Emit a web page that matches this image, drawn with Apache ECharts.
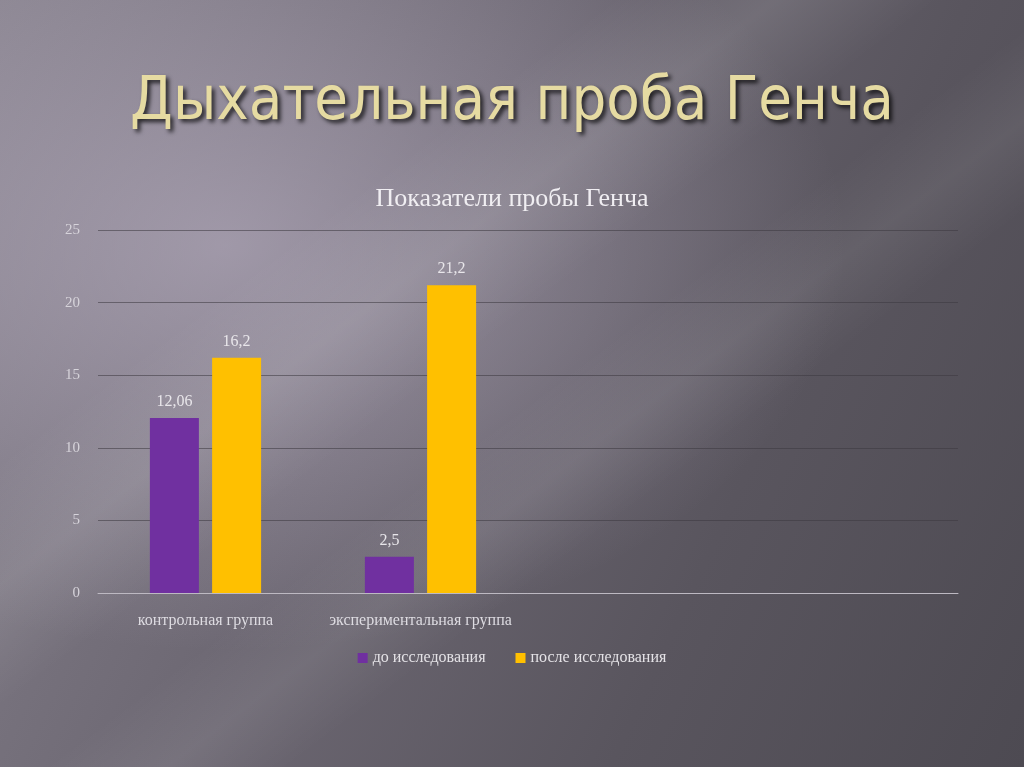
<!DOCTYPE html>
<html>
<head>
<meta charset="utf-8">
<script src="https://cdn.jsdelivr.net/npm/echarts@6/dist/echarts.min.js"></script>
<style>
  html, body { margin: 0; padding: 0; }
  body {
    width: 1024px; height: 767px; overflow: hidden;
    background:
      linear-gradient(143deg, rgba(255,255,255,0) 30%, rgba(255,255,255,0.10) 38%, rgba(255,255,255,0) 46%),
      linear-gradient(143deg, rgba(255,255,255,0) 52%, rgba(255,255,255,0.07) 58%, rgba(255,255,255,0) 64%),
      radial-gradient(ellipse at 22% 32%, rgba(195,185,205,0.55) 0%, rgba(195,185,205,0) 55%),
      linear-gradient(115deg, #85808b 0%, #6c6772 40%, #59555e 70%, #4d4a52 100%);
  }
  #chart { width: 1024px; height: 767px; }
</style>
</head>
<body>
<div id="chart"></div>
<script>
// данные диаграммы
var categories = ['контрольная группа', 'экспериментальная группа', '', ''];
var before = [12.06, 2.5, null, null];
var after = [16.2, 21.2, null, null];
var yTicks = [0, 5, 10, 15, 20, 25];

var chart = echarts.init(document.getElementById('chart'));

function label(v) {
  return String(v).replace('.', ',');
}

var serif = 'Liberation Serif';

var option = {
  animation: false,
  title: [
    {
      text: 'Дыхательная проба Генча',
      left: 'center',
      top: 68,
      textStyle: {
        fontFamily: 'DejaVu Sans Condensed',
        fontSize: 61,
        fontWeight: 'normal',
        color: '#e6dba2',
        textShadowColor: 'rgba(0,0,0,0.75)',
        textShadowBlur: 4,
        textShadowOffsetX: 3,
        textShadowOffsetY: 3
      }
    },
    {
      text: 'Показатели пробы Генча',
      left: 'center',
      top: 181,
      textStyle: {
        fontFamily: serif,
        fontSize: 26,
        fontWeight: 'normal',
        color: '#f0eef2'
      }
    }
  ],
  legend: {
    bottom: 96,
    left: 'center',
    itemWidth: 10,
    itemHeight: 10,
    itemGap: 30,
    icon: 'rect',
    textStyle: { fontFamily: serif, fontSize: 16, color: '#e4e2e6' },
    data: ['до исследования', 'после исследования']
  },
  grid: { left: 98, right: 66, top: 230, bottom: 174, containLabel: false },
  xAxis: {
    type: 'category',
    data: categories,
    axisLine: { show: true, lineStyle: { color: '#bdb9c2', width: 1 } },
    axisTick: { show: false },
    axisLabel: { fontFamily: serif, fontSize: 16, color: '#dedce2', margin: 20, interval: 0 }
  },
  yAxis: {
    type: 'value',
    min: 0,
    max: 25,
    interval: 5,
    axisLine: { show: false },
    axisTick: { show: false },
    axisLabel: {
      fontFamily: serif, fontSize: 15, color: '#d6d3da', margin: 18,
      formatter: function (v) { return yTicks.indexOf(v) >= 0 ? String(v) : ''; }
    },
    splitLine: { lineStyle: { color: 'rgba(60,56,64,0.55)', width: 1 } }
  },
  series: [
    {
      name: 'до исследования',
      type: 'bar',
      data: before,
      barWidth: 49,
      barGap: '27%',
      itemStyle: { color: '#7030a0' },
      label: {
        show: true, position: 'top', distance: 8,
        fontFamily: serif, fontSize: 16, color: '#e8e6ea',
        formatter: function (p) { return label(p.value); }
      }
    },
    {
      name: 'после исследования',
      type: 'bar',
      data: after,
      barWidth: 49,
      itemStyle: { color: '#ffc000' },
      label: {
        show: true, position: 'top', distance: 8,
        fontFamily: serif, fontSize: 16, color: '#e8e6ea',
        formatter: function (p) { return label(p.value); }
      }
    }
  ]
};

chart.setOption(option);
</script>
</body>
</html>
